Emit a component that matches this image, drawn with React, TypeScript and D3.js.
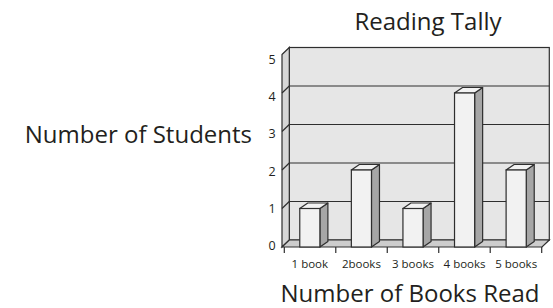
import React from "react";
import * as d3 from "d3";

const categories = ["1 book", "2books", "3 books", "4 books", "5 books"];
const students = [1, 2, 1, 4, 2];
const yTicks = [0, 1, 2, 3, 4, 5];
const chartTitle = "Reading Tally";
const xTitle = "Number of Books Read";
const yTitle = "Number of Students";

const W = 553;
const H = 308;
const FONT = "'Open Sans', 'Noto Sans', sans-serif";
const INK = "#231f20";

export default function App() {
  const wallLeft = 289.3;
  const wallRight = 549.3;
  const yBack = d3.scaleLinear().domain([0, 5]).range([240, 47.5]);
  const wdx = 7.3;
  const wdy = 7;
  const yFront = (v: number) => yBack(v) + wdy;
  const x = d3.scaleBand<string>().domain(categories).range([284.3, 541.7]).paddingInner(0.61).paddingOuter(0.3);
  const bdx = 8;
  const bdy = 5.5;
  const yLabel = d3.scaleLinear().domain([0, 5]).range([246, 59.5]);

  const stroke = "#2e2e2e";
  const sw = 1.2;
  const boundaries = d3.range(categories.length + 1).map((i) => 284.3 + (i * (541.7 - 284.3)) / categories.length);

  const pts = (a: number[][]) => a.map((p) => p.join(",")).join(" ");

  return (
    <svg width={W} height={H} style={{ position: "absolute", left: 0, top: 0 }}>
      <rect x={0} y={0} width={W} height={H} fill="#fff" />
      <rect x={wallLeft} y={yBack(5)} width={wallRight - wallLeft} height={yBack(0) - yBack(5)} fill="#e6e6e6" stroke={stroke} strokeWidth={sw} />
      <polygon
        points={pts([
          [wallLeft - wdx, yFront(5)],
          [wallLeft, yBack(5)],
          [wallLeft, yBack(0)],
          [wallLeft - wdx, yFront(0)],
        ])}
        fill="#d6d6d6"
        stroke={stroke}
        strokeWidth={sw}
      />
      <polygon
        points={pts([
          [wallLeft, yBack(0)],
          [wallRight, yBack(0)],
          [wallRight - wdx, yFront(0)],
          [wallLeft - wdx, yFront(0)],
        ])}
        fill="#cdcdcd"
        stroke={stroke}
        strokeWidth={sw}
      />
      {yTicks.filter((t) => t > 0 && t < 5).map((t) => (
        <g key={t}>
          <line x1={wallLeft} x2={wallRight} y1={yBack(t)} y2={yBack(t)} stroke={stroke} strokeWidth={sw} />
          <line x1={wallLeft - wdx} x2={wallLeft} y1={yFront(t)} y2={yBack(t)} stroke={stroke} strokeWidth={sw} />
        </g>
      ))}
      {boundaries.map((bx, i) => (
        <line key={i} x1={bx} x2={bx} y1={yFront(0)} y2={yFront(0) + 6} stroke={stroke} strokeWidth={sw} />
      ))}
      {categories.map((c, i) => {
        const x0 = x(c)!;
        const x1 = x0 + x.bandwidth();
        const top = yFront(students[i]);
        const bottom = yFront(0);
        return (
          <g key={c}>
            <polygon
              points={pts([
                [x1, top],
                [x1 + bdx, top - bdy],
                [x1 + bdx, bottom - bdy],
                [x1, bottom],
              ])}
              fill="#a6a6a6"
              stroke={stroke}
              strokeWidth={sw}
              strokeLinejoin="round"
            />
            <polygon
              points={pts([
                [x0, top],
                [x0 + bdx, top - bdy],
                [x1 + bdx, top - bdy],
                [x1, top],
              ])}
              fill="#f2f2f2"
              stroke={stroke}
              strokeWidth={sw}
              strokeLinejoin="round"
            />
            <rect x={x0} y={top} width={x1 - x0} height={bottom - top} fill="#f2f2f2" stroke={stroke} strokeWidth={sw} />
          </g>
        );
      })}
      {yTicks.map((t) => (
        <text key={t} x={272} y={yLabel(t)} dy="0.35em" textAnchor="middle" fontFamily={FONT} fontSize={12.5} fill={INK}>
          {t}
        </text>
      ))}
      {categories.map((c) => (
        <text key={c} x={x(c)! + x.bandwidth() / 2} y={268} textAnchor="middle" fontFamily={FONT} fontSize={11.5} fill={INK}>
          {c}
        </text>
      ))}
      <text x={428} y={30} textAnchor="middle" fontFamily={FONT} fontSize={24} fill={INK}>
        {chartTitle}
      </text>
      <text x={252} y={143} textAnchor="end" fontFamily={FONT} fontSize={24} fill={INK}>
        {yTitle}
      </text>
      <text x={410} y={302} textAnchor="middle" fontFamily={FONT} fontSize={24} fill={INK}>
        {xTitle}
      </text>
    </svg>
  );
}
